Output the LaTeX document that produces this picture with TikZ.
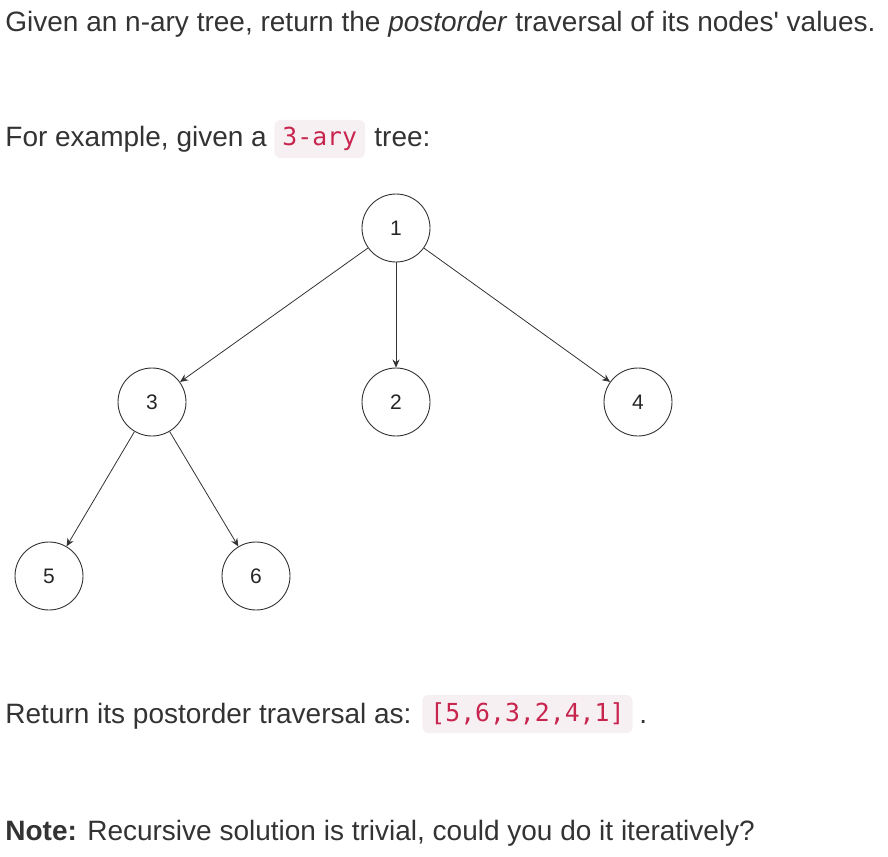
\documentclass[tikz,border=0pt]{standalone}
\usepackage{fontspec}
\setmainfont{Liberation Sans}
\setmonofont{DejaVu Sans Mono}
\usetikzlibrary{arrows.meta}
\definecolor{txt}{HTML}{333333}
\definecolor{codefg}{HTML}{C7254E}
\definecolor{codebg}{HTML}{F7F0F3}
\begin{document}
\begin{tikzpicture}[x=0.5pt,y=-0.5pt,
  body/.style={font=\fontsize{14}{17}\selectfont, text=txt, inner sep=0pt, anchor=base west},
  code/.style={font=\ttfamily\fontsize{12.4}{15}\selectfont, text=codefg, fill=codebg, rounded corners=3pt, inner xsep=4pt, minimum height=19pt, anchor=west},
  tnode/.style={circle, draw=black!80, line width=0.45pt, minimum size=34pt, inner sep=0pt, font=\fontsize{10.5}{12}\selectfont, text=black!85},
  edge/.style={draw=black!80, line width=0.4pt, -{Stealth[length=4pt,width=3.5pt]}}]
\useasboundingbox (0,0) rectangle (888,856);
\node[body] (l1) at (5,32) {Given an n-ary tree, return the \emph{postorder} traversal of its nodes\textquotesingle{} values.};
\node[body] (l2) at (5,147) {For example, given a};
\node[code] (c1) at (274,139) {3-ary};
\node[body] (l2b) at (374,147) {tree:};
\node[tnode] (n1) at (396,228) {1};
\node[tnode] (n3) at (152,402) {3};
\node[tnode] (n2) at (396,402) {2};
\node[tnode] (n4) at (638,402) {4};
\node[tnode] (n5) at (49,576) {5};
\node[tnode] (n6) at (256,576) {6};
\draw[edge] (n1) -- (n3);
\draw[edge] (n1) -- (n2);
\draw[edge] (n1) -- (n4);
\draw[edge] (n3) -- (n5);
\draw[edge] (n3) -- (n6);
\node[body] (l3) at (5,723) {Return its postorder traversal as:};
\node[code] (c2) at (422,714) {[5,6,3,2,4,1]};
\node[body] (l3b) at (639,723) {.};
\node[body] (l4) at (5,840) {\textbf{Note:} Recursive solution is trivial, could you do it iteratively?};
\end{tikzpicture}
\end{document}
